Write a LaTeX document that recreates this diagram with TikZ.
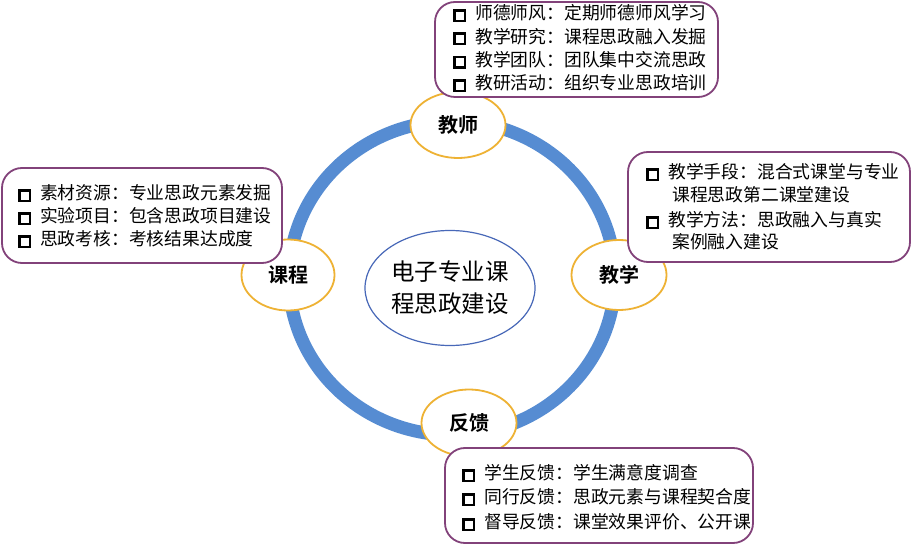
\documentclass[tikz,border=0pt]{standalone}
\usepackage{fontspec}
\setmainfont{Noto Sans CJK SC}
\newfontfamily\cjkbold{Noto Sans CJK SC Bold}
\usetikzlibrary{shapes.geometric}
\definecolor{ringblue}{RGB}{86,140,210}
\definecolor{goldline}{RGB}{238,178,52}
\definecolor{plum}{RGB}{130,66,122}
\definecolor{centreblue}{RGB}{72,104,184}
\newcommand{\chk}{\makebox[22pt][l]{\raisebox{0.2pt}{\setlength{\fboxrule}{2.6pt}\setlength{\fboxsep}{0pt}\fbox{\rule{0pt}{7.8pt}\hspace{7.8pt}}}}}
\tikzset{
 ringline/.style={line width=13pt, draw=ringblue},
 topic/.style={ellipse, draw=goldline, line width=1.8pt, fill=white, inner sep=0pt, font=\cjkbold\fontsize{20}{24}\selectfont},
 hub/.style={ellipse, draw=centreblue, line width=1.2pt, fill=white, inner sep=0pt, minimum width=170pt, minimum height=115pt, align=center, font=\fontsize{23.5}{32}\selectfont},
 infobox/.style={draw=plum, line width=1.8pt, fill=white, rounded corners=20pt, inner sep=0pt},
 itemtext/.style={anchor=base west, inner sep=0pt, font=\fontsize{17.8}{23}\selectfont},
}
\begin{document}
\begin{tikzpicture}[x=1pt,y=-1pt]
\useasboundingbox (0,0) rectangle (911,545);
\fill[white] (0,0) rectangle (911,545);
% ring
\coordinate (c) at (452,278);
\draw[ringline] (c) ellipse [x radius=163pt, y radius=157pt];
% hub
\node[hub] (hubnode) at (450,288) {电子专业课\\程思政建设};
% topic ellipses
\node[topic, minimum width=95pt, minimum height=66pt] (teacher) at (458,125) {教师};
\node[topic, minimum width=93pt, minimum height=71pt] (course) at (288,275) {课程};
\node[topic, minimum width=95pt, minimum height=70pt] (teach) at (619,275) {教学};
\node[topic, minimum width=95pt, minimum height=67pt] (feedback) at (469,423) {反馈};
% boxes
\node[infobox, minimum width=283pt, minimum height=95pt] (tbox) at (576.5,49.5) {};
\node[infobox, minimum width=280pt, minimum height=95pt] (lbox) at (142,215.5) {};
\node[infobox, minimum width=282pt, minimum height=110pt] (rbox) at (769,207) {};
\node[infobox, minimum width=308pt, minimum height=95pt] (bbox) at (599,495.5) {};
% top box text
\node[itemtext] (t1) at (453,19.8) {\chk 师德师风：定期师德师风学习};
\node[itemtext] (t2) at (453,43.1) {\chk 教学研究：课程思政融入发掘};
\node[itemtext] (t3) at (453,66.4) {\chk 教学团队：团队集中交流思政};
\node[itemtext] (t4) at (453,89.8) {\chk 教研活动：组织专业思政培训};
% left box text
\node[itemtext] (l1) at (18,199.8) {\chk 素材资源：专业思政元素发掘};
\node[itemtext] (l2) at (18,222.8) {\chk 实验项目：包含思政项目建设};
\node[itemtext] (l3) at (18,245.8) {\chk 思政考核：考核结果达成度};
% right box text
\node[itemtext] (r1) at (646,178.8) {\chk 教学手段：混合式课堂与专业};
\node[itemtext] (r2) at (672,201.8) {课程思政第二课堂建设};
\node[itemtext] (r3) at (646,226.8) {\chk 教学方法：思政融入与真实};
\node[itemtext] (r4) at (672,248.8) {案例融入建设};
% bottom box text
\node[itemtext] (b1) at (462,479.8) {\chk 学生反馈：学生满意度调查};
\node[itemtext] (b2) at (462,503.8) {\chk 同行反馈：思政元素与课程契合度};
\node[itemtext] (b3) at (462,528.8) {\chk 督导反馈：课堂效果评价、公开课};
\end{tikzpicture}
\end{document}
